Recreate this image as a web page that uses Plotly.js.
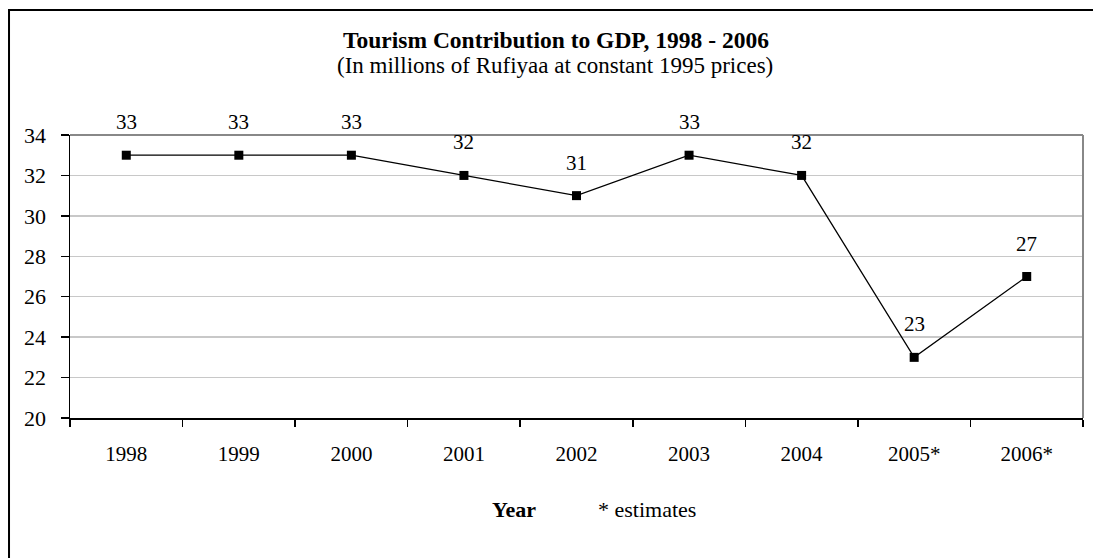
<!DOCTYPE html>
<html>
<head>
<meta charset="utf-8">
<script src="https://cdn.plot.ly/plotly-3.0.1.min.js"></script>
<style>
  html, body { margin: 0; padding: 0; background: #fff; }
  #chart { width: 1093px; height: 558px; }
</style>
</head>
<body>
<div id="chart"></div>
<script>
// Tourism contribution to GDP (millions of Rufiyaa, constant 1995 prices)
const years = ['1998', '1999', '2000', '2001', '2002', '2003', '2004', '2005*', '2006*'];
const gdpContribution = [33, 33, 33, 32, 31, 33, 32, 23, 27];
const yTicks = [20, 22, 24, 26, 28, 30, 32, 34];

const serif = '"Liberation Serif", "Times New Roman", serif';

const trace = {
  type: 'scatter',
  mode: 'lines+markers',
  x: years,
  y: gdpContribution,
  line: { color: '#000', width: 1.3 },
  marker: { symbol: 'square', size: 9, color: '#000' },
  hoverinfo: 'skip',
  cliponaxis: false
};

// value labels above each point (category index used as x position)
const valueLabels = years.map((yr, i) => ({
  x: i,
  y: gdpContribution[i],
  xref: 'x',
  yref: 'y',
  text: String(gdpContribution[i]),
  showarrow: false,
  xanchor: 'center',
  yanchor: 'middle',
  yshift: 33,
  font: { family: serif, size: 21, color: '#000' }
}));

const layout = {
  width: 1093,
  height: 558,
  margin: { l: 70, r: 10, t: 135, b: 140 },
  paper_bgcolor: '#fff',
  plot_bgcolor: '#fff',
  showlegend: false,
  font: { family: serif, size: 21, color: '#000' },
  xaxis: {
    type: 'category',
    range: [-0.5, 8.5],
    tickson: 'boundaries',
    ticks: 'outside',
    ticklen: 7,
    tickwidth: 1.5,
    tickcolor: '#000',
    ticklabelstandoff: 16,
    showline: true,
    linecolor: '#000',
    linewidth: 2,
    showgrid: false,
    zeroline: false,
    tickfont: { family: serif, size: 21, color: '#000' },
    fixedrange: true
  },
  yaxis: {
    range: [20, 34],
    tickvals: yTicks,
    ticktext: yTicks.map(String),
    ticks: 'outside',
    ticklen: 8,
    tickwidth: 1.5,
    tickcolor: '#000',
    ticklabelstandoff: 10,
    showline: true,
    linecolor: '#000',
    linewidth: 1.5,
    showgrid: true,
    gridcolor: '#c8c8c8',
    gridwidth: 1.3,
    zeroline: false,
    tickfont: { family: serif, size: 22, color: '#000' },
    fixedrange: true
  },
  shapes: [
    // plot frame: top and right edges
    { type: 'line', xref: 'paper', yref: 'paper', x0: 0, x1: 1, y0: 1, y1: 1,
      line: { color: '#888', width: 2 } },
    { type: 'line', xref: 'paper', yref: 'paper', x0: 1, x1: 1, y0: 0, y1: 1,
      line: { color: '#888', width: 2 } },
    // outer chart border
    { type: 'rect', xref: 'paper', yref: 'paper', x0: -0.0602, x1: 1.2, y0: -0.7, y1: 1.4417,
      line: { color: '#000', width: 2 } }
  ],
  annotations: valueLabels.concat([
    { xref: 'paper', yref: 'paper', x: 0.48, y: 1.336, xanchor: 'center', yanchor: 'middle',
      text: '<b>Tourism Contribution to GDP, 1998 - 2006</b>', showarrow: false,
      font: { family: serif, size: 23.5, color: '#000' } },
    { xref: 'paper', yref: 'paper', x: 0.479, y: 1.247, xanchor: 'center', yanchor: 'middle',
      text: '(In millions of Rufiyaa at constant 1995 prices)', showarrow: false,
      font: { family: serif, size: 23, color: '#000' } },
    { xref: 'paper', yref: 'paper', x: 0.438, y: -0.3216, xanchor: 'center', yanchor: 'middle',
      text: '<b>Year</b>', showarrow: false,
      font: { family: serif, size: 22, color: '#000' } },
    { xref: 'paper', yref: 'paper', x: 0.5696, y: -0.3216, xanchor: 'center', yanchor: 'middle',
      text: '* estimates', showarrow: false,
      font: { family: serif, size: 22, color: '#000' } }
  ])
};

Plotly.newPlot('chart', [trace], layout, { displayModeBar: false, staticPlot: true });
</script>
</body>
</html>
